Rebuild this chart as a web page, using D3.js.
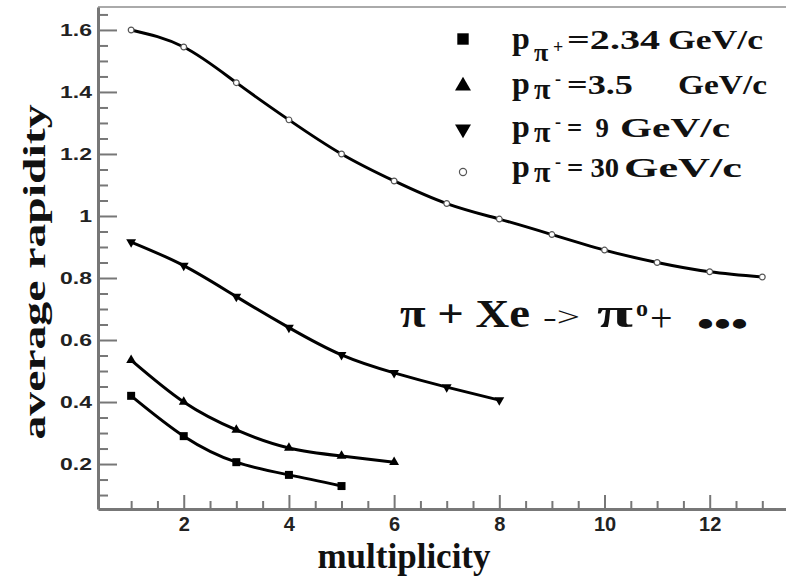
<!DOCTYPE html>
<html>
<head>
<meta charset="utf-8">
<script src="https://cdn.jsdelivr.net/npm/d3@7"></script>
<style>
  body { margin: 0; background: #fff; }
  svg { display: block; }
</style>
</head>
<body>
<svg></svg>
<script>
// multiplicity values and average rapidity per beam momentum
const mult = [1, 2, 3, 4, 5, 6, 7, 8, 9, 10, 11, 12, 13]
const rap234 = [0.42, 0.29, 0.206, 0.165, 0.129]
const rap35 = [0.535, 0.40, 0.31, 0.252, 0.226, 0.206]
const rap9 = [0.916, 0.84, 0.74, 0.64, 0.552, 0.494, 0.448, 0.406]
const rap30 = [1.60, 1.545, 1.43, 1.31, 1.20, 1.113, 1.04, 0.99, 0.94, 0.89, 0.85, 0.82, 0.803]

const xTicks = [2, 4, 6, 8, 10, 12]
const yTicks = [0.2, 0.4, 0.6, 0.8, 1, 1.2, 1.4, 1.6]
const legendSigns = ['+', '-', '-', '-']
const legendValues = ['=2.34', '=3.5', '=  9', '= 30']

const width = 786, height = 577

const svg = d3.select('svg')
  .attr('width', width)
  .attr('height', height)

const x = d3.scaleLinear().domain([0.37, 13.5]).range([98, 788.6])
const y = d3.scaleLinear().domain([0.055, 1.674]).range([509, 7])

// top frame line
svg.append('line')
  .attr('x1', 98).attr('x2', width).attr('y1', 7).attr('y2', 7)
  .attr('stroke', '#aaa').attr('stroke-width', 2)

// minor ticks
const xMinor = d3.range(1, 13.51, 0.5).filter(v => !xTicks.includes(v))
const yMinor = d3.range(0.1, 1.66, 0.05).map(v => +v.toFixed(2)).filter(v => !yTicks.includes(v))

svg.append('g')
  .attr('transform', `translate(0, ${y.range()[0]})`)
  .call(d3.axisBottom(x).tickValues(xMinor).tickSize(-8).tickSizeOuter(0).tickFormat(''))
  .call(g => g.select('.domain').remove())
  .call(g => g.selectAll('line').attr('stroke', '#777').attr('stroke-width', 2))

svg.append('g')
  .attr('transform', `translate(${x.range()[0]}, 0)`)
  .call(d3.axisLeft(y).tickValues(yMinor).tickSize(-10).tickSizeOuter(0).tickFormat(''))
  .call(g => g.select('.domain').remove())
  .call(g => g.selectAll('line').attr('stroke', '#777').attr('stroke-width', 2))

// major axes
svg.append('g')
  .attr('transform', `translate(0, ${y.range()[0]})`)
  .call(d3.axisBottom(x).tickValues(xTicks).tickSize(-14).tickSizeOuter(0).tickPadding(6))
  .call(g => g.select('.domain').attr('stroke', '#777').attr('stroke-width', 3))
  .call(g => g.selectAll('line').attr('stroke', '#777').attr('stroke-width', 2))
  .call(g => g.selectAll('text')
    .attr('fill', '#222')
    .attr('font-family', 'Liberation Sans, Arial, sans-serif')
    .attr('font-weight', 'bold')
    .attr('font-size', 20)
    .attr('dy', '0.78em'))

svg.append('g')
  .attr('transform', `translate(${x.range()[0]}, 0)`)
  .call(d3.axisLeft(y).tickValues(yTicks).tickSize(-19).tickSizeOuter(0).tickPadding(6).tickFormat(d3.format('')))
  .call(g => g.select('.domain').attr('stroke', '#777').attr('stroke-width', 3))
  .call(g => g.selectAll('line').attr('stroke', '#777').attr('stroke-width', 2))
  .call(g => g.selectAll('text')
    .attr('fill', '#222')
    .attr('font-family', 'Liberation Sans, Arial, sans-serif')
    .attr('font-weight', 'bold')
    .attr('font-size', 17)
    .attr('lengthAdjust', 'spacingAndGlyphs')
    .attr('textLength', function() { return this.getComputedTextLength() * 1.35 }))

// curves
const series = [
  { vals: rap234, sym: d3.symbolSquare, size: 64, fill: '#000' },
  { vals: rap35, sym: d3.symbolTriangle, size: 42, fill: '#000' },
  { vals: rap9, sym: d3.symbolTriangle, size: 42, fill: '#000', flip: true },
  { vals: rap30, sym: d3.symbolCircle, size: 26, fill: '#fff' }
]

const line = d3.line()
  .x((d, i) => x(mult[i]))
  .y(d => y(d))
  .curve(d3.curveNatural)

series.forEach(s => {
  svg.append('path')
    .datum(s.vals)
    .attr('d', line)
    .attr('fill', 'none')
    .attr('stroke', '#000')
    .attr('stroke-width', 3)

  svg.append('g')
    .selectAll('path')
    .data(s.vals)
    .join('path')
    .attr('transform', (d, i) => `translate(${x(mult[i])}, ${y(d)})${s.flip ? ' rotate(180)' : ''}`)
    .attr('d', d3.symbol(s.sym, s.size))
    .attr('fill', s.fill)
    .attr('stroke', s.fill === '#fff' ? '#555' : 'none')
    .attr('stroke-width', 1.2)
})

// legend
const serif = 'Liberation Serif, Times New Roman, serif'
const rowY = [49, 94, 137, 177]
const markY = [39, 86, 129, 172]
const valX = [567, 567, 567, 567]
const valLen = [93, 66, 42, 52]
const unitX = [668, 678, 620, 624]
const unitLen = [95, 89, 110, 118]

series.forEach((s, i) => {
  svg.append('path')
    .attr('transform', `translate(463, ${markY[i]})${s.flip ? ' rotate(180)' : ''}`)
    .attr('d', d3.symbol(s.sym, i === 0 ? 130 : i === 3 ? 40 : 110))
    .attr('fill', s.fill)
    .attr('stroke', s.fill === '#fff' ? '#555' : 'none')
    .attr('stroke-width', 1.2)

  let t = svg.append('g')
    .attr('font-family', serif)
    .attr('font-weight', 'bold')
    .attr('fill', '#111')

  t.append('text').attr('x', 512).attr('y', rowY[i]).attr('font-size', 32).text('p')
  t.append('text').attr('x', 534).attr('y', rowY[i] + (i === 0 ? 12 : 5))
    .attr('font-size', i === 0 ? 26 : 30).text('π')
  t.append('text').attr('x', i === 0 ? 553 : 555).attr('y', rowY[i] + (i === 0 ? 4 : -9)).attr('font-size', 18).text(legendSigns[i])
  t.append('text').attr('x', valX[i]).attr('y', rowY[i]).attr('font-size', 28)
    .attr('textLength', valLen[i]).attr('lengthAdjust', 'spacingAndGlyphs')
    .style('white-space', 'pre').text(legendValues[i])
  t.append('text').attr('x', unitX[i]).attr('y', rowY[i]).attr('font-size', 28)
    .attr('textLength', unitLen[i]).attr('lengthAdjust', 'spacingAndGlyphs')
    .text('GeV/c')
})

// reaction label
let r = svg.append('g')
  .attr('font-family', serif)
  .attr('fill', '#111')

r.append('text').attr('x', 400).attr('y', 327).attr('font-size', 40).attr('font-weight', 'bold')
  .attr('textLength', 130).attr('lengthAdjust', 'spacingAndGlyphs').text('π + Xe')
r.append('text').attr('x', 543).attr('y', 326).attr('font-size', 28)
  .attr('textLength', 37).attr('lengthAdjust', 'spacingAndGlyphs').text('->')
r.append('text').attr('x', 597).attr('y', 327).attr('font-size', 40).attr('font-weight', 'bold')
  .attr('textLength', 36).attr('lengthAdjust', 'spacingAndGlyphs').text('π')
r.append('text').attr('x', 636).attr('y', 316).attr('font-size', 24).attr('font-weight', 'bold').text('o')
r.append('text').attr('x', 650).attr('y', 331).attr('font-size', 40).text('+')
r.append('text').attr('x', 697).attr('y', 336).attr('font-size', 36).attr('font-weight', 'bold')
  .attr('textLength', 51).attr('lengthAdjust', 'spacingAndGlyphs').text('•••')

// axis titles
svg.append('text')
  .attr('x', 404).attr('y', 568)
  .attr('text-anchor', 'middle')
  .attr('font-family', serif)
  .attr('font-weight', 'bold')
  .attr('font-size', 35)
  .attr('fill', '#111')
  .text('multiplicity')

svg.append('text')
  .attr('transform', 'translate(45, 272) rotate(-90)')
  .attr('text-anchor', 'middle')
  .attr('font-family', serif)
  .attr('font-weight', 'bold')
  .attr('font-size', 32)
  .attr('fill', '#111')
  .attr('textLength', 335)
  .attr('lengthAdjust', 'spacingAndGlyphs')
  .text('average rapidity')
</script>
</body>
</html>
